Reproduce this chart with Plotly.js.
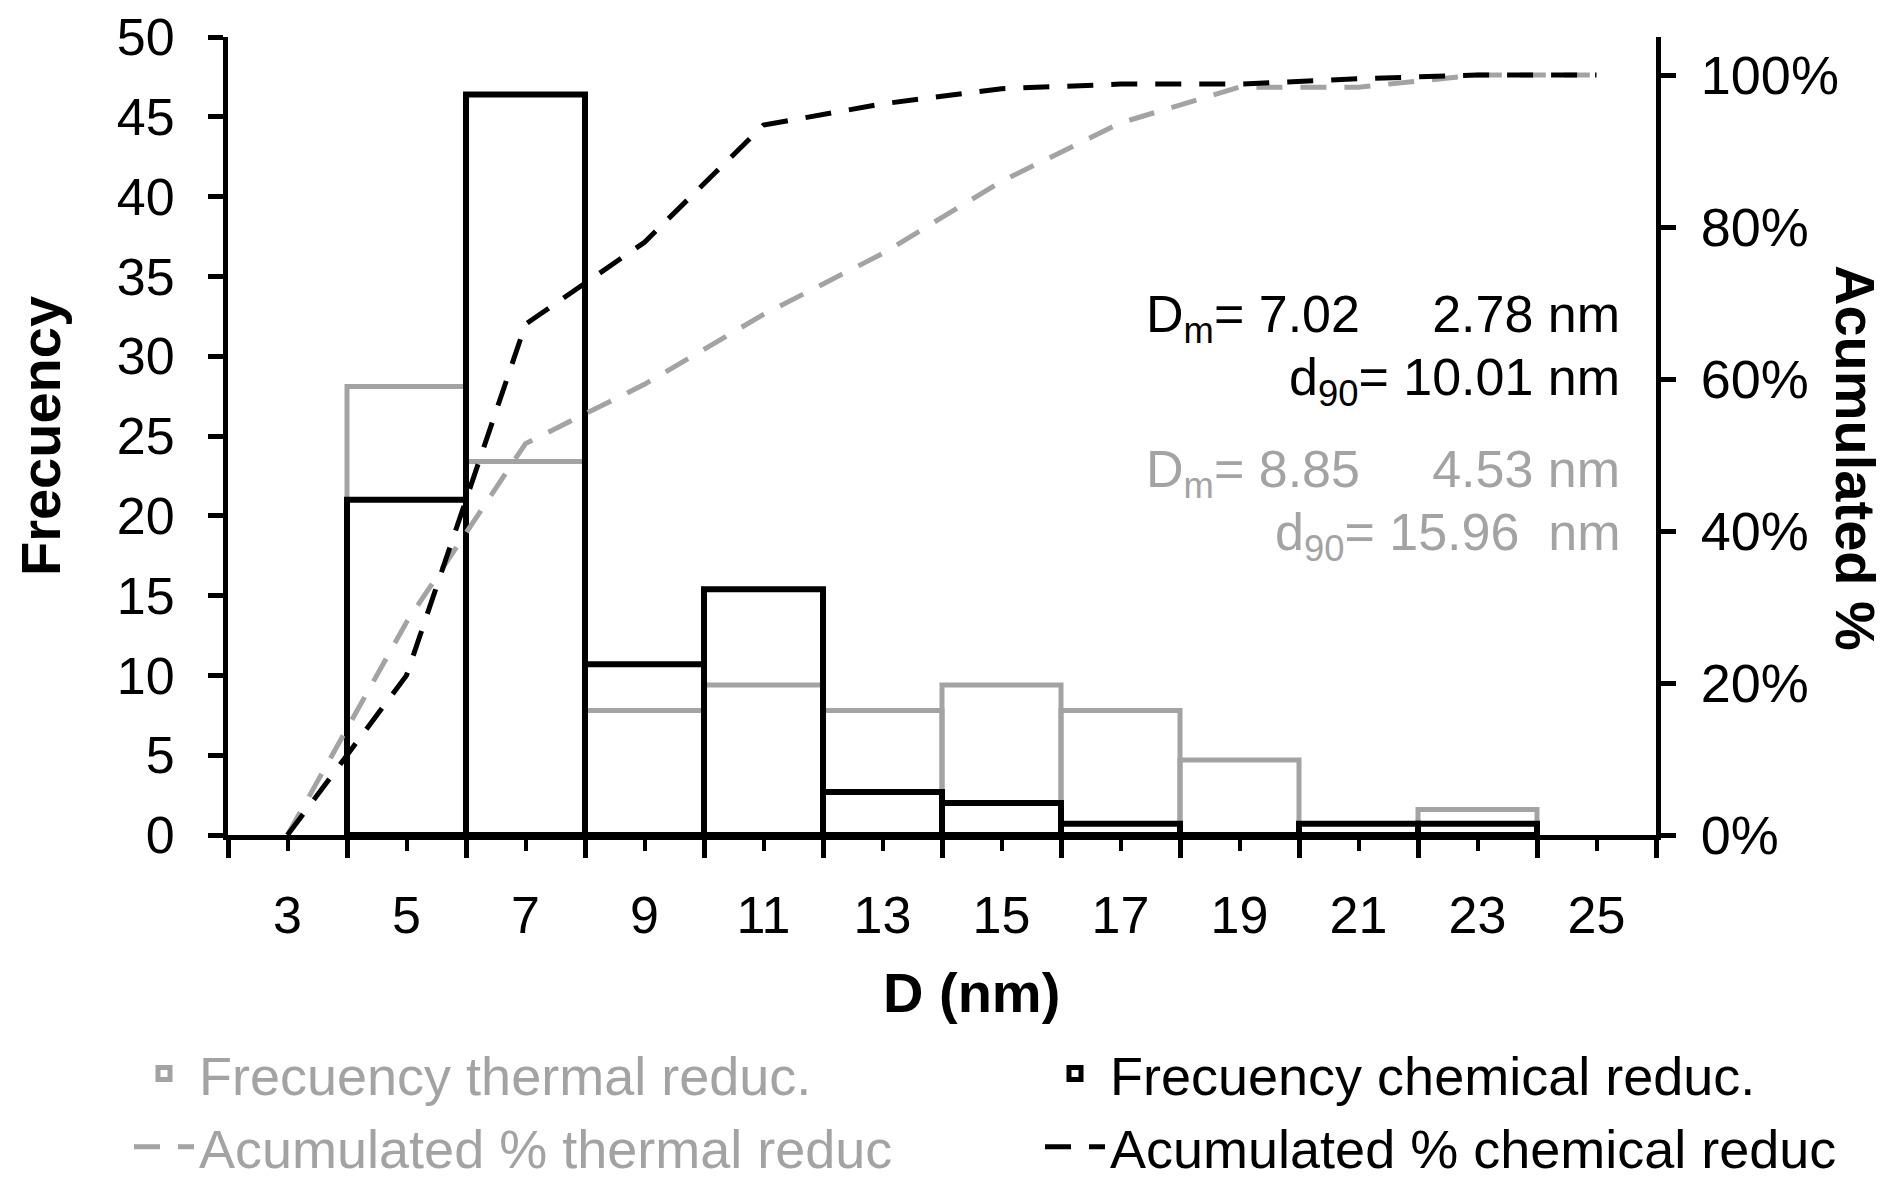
<!DOCTYPE html>
<html><head><meta charset="utf-8">
<script src="https://cdn.plot.ly/plotly-3.0.1.min.js"></script>
<style>html,body{margin:0;padding:0;background:#fff}#chart{width:1902px;height:1191px}</style>
</head><body><div id="chart"></div>
<script>
// Histogram bins (width 2 nm), centres
const binCenters = [5, 7, 9, 11, 13, 15, 17, 19, 21, 23];
const freqThermal = [28.1, 23.4, 7.8, 9.4, 7.8, 9.4, 7.8, 4.7, 0, 1.6];
const freqChemical = [21.0, 46.4, 10.7, 15.4, 2.7, 2.0, 0.7, 0, 0.7, 0.7];
// Accumulated % curves
const cumX = [3, 5, 7, 9, 11, 13, 15, 17, 19, 21, 23, 25];
const cumThermal = [0, 28, 51.5, 59.3, 68.5, 76.5, 86, 93.7, 98.4, 98.4, 100, 100];
const cumChemical = [0, 21, 67.2, 78, 93.4, 96.2, 98.2, 98.8, 98.8, 99.5, 100, 100];
// Tick labels
const xTickVals = [3, 5, 7, 9, 11, 13, 15, 17, 19, 21, 23, 25];
const xTickText = ['3', '5', '7', '9', '11', '13', '15', '17', '19', '21', '23', '25'];
const xMinorVals = [2, 4, 6, 8, 10, 12, 14, 16, 18, 20, 22, 24, 26];
const y2TickVals = [0, 20, 40, 60, 80, 100];
const y2TickText = ['0%', '20%', '40%', '60%', '80%', '100%'];
const statsChemical = ['D<sub>m</sub>= 7.02\u00a0\u00a0\u00a0\u00a0 2.78 nm', 'd<sub>90</sub>= 10.01 nm'];
const statsThermal = ['D<sub>m</sub>= 8.85\u00a0\u00a0\u00a0\u00a0 4.53 nm', 'd<sub>90</sub>= 15.96\u00a0 nm'];

const GRAY = '#a3a3a3';
const FONT = 'Liberation Sans, Arial, sans-serif';

const traces = [
  {type: 'bar', x: binCenters, y: freqThermal, width: 2, name: 'Frecuency thermal reduc.',
   marker: {color: 'rgba(0,0,0,0)', line: {color: GRAY, width: 5}}, legend: 'legend', legendgroup: 'tf', hoverinfo: 'x+y'},
  {type: 'scatter', mode: 'lines', x: cumX, y: cumThermal, yaxis: 'y2', name: 'Acumulated % thermal reduc',
   line: {color: GRAY, width: 5, dash: '26px,18px'}, legend: 'legend', legendgroup: 'tc'},
  {type: 'bar', x: binCenters, y: freqChemical, width: 2, name: 'Frecuency chemical reduc.',
   marker: {color: 'rgba(0,0,0,0)', line: {color: '#000', width: 6}}, legend: 'legend2', legendgroup: 'cf'},
  {type: 'scatter', mode: 'lines', x: cumX, y: cumChemical, yaxis: 'y2', name: 'Acumulated % chemical reduc',
   line: {color: '#000', width: 5, dash: '26px,18px'}, legend: 'legend2', legendgroup: 'cc'}
];

const L = 228, R = 1656, T = 37, B = 835;
const px = v => (v - L) / (R - L);
const py = v => (B - v) / (B - T);

const statAnn = (text, y, color) => ({xref: 'paper', yref: 'paper', x: px(1622), y: py(y), xanchor: 'right', yanchor: 'middle',
  text: text, showarrow: false, font: {family: FONT, size: 52, color: color}});

const layout = {
  width: 1902, height: 1191,
  margin: {l: L, r: 1902 - R, t: T, b: 1191 - B, autoexpand: false},
  paper_bgcolor: '#fff', plot_bgcolor: '#fff',
  font: {family: FONT, size: 52, color: '#000'},
  barmode: 'overlay',
  showlegend: true,
  xaxis: {range: [2, 26], tickmode: 'array', tickvals: xTickVals, ticktext: xTickText,
    ticks: 'outside', ticklen: 11, tickwidth: 4, tickcolor: '#000',
    minor: {tickmode: 'array', tickvals: xMinorVals, ticks: 'outside', ticklen: 18, tickwidth: 5, tickcolor: '#000'},
    showline: true, linewidth: 5, linecolor: '#000', showgrid: false, zeroline: false,
    ticklabelstandoff: 20},
  yaxis: {range: [0, 50], dtick: 5, tick0: 0, ticks: 'outside', ticklen: 15, tickwidth: 5, tickcolor: '#000',
    showline: true, linewidth: 5, linecolor: '#000', showgrid: false, zeroline: false,
    ticklabelstandoff: 23,
    title: {text: 'Frecuency', font: {family: FONT, size: 56, weight: 'bold', color: '#000'}, standoff: 40}},
  yaxis2: {overlaying: 'y', side: 'right', range: [0, 105], tickmode: 'array', tickvals: y2TickVals, ticktext: y2TickText,
    ticks: 'outside', ticklen: 15, tickwidth: 5, tickcolor: '#000',
    showline: true, linewidth: 5, linecolor: '#000', showgrid: false, zeroline: false,
    ticklabelstandoff: 14, tickfont: {size: 54}},
  legend: {x: px(129), xanchor: 'left', y: py(1032), yanchor: 'top', orientation: 'v', traceorder: 'normal',
    tracegroupgap: 12, bgcolor: 'rgba(0,0,0,0)', itemwidth: 60, font: {family: FONT, size: 54, color: GRAY}},
  legend2: {x: px(1040), xanchor: 'left', y: py(1032), yanchor: 'top', orientation: 'v', traceorder: 'normal',
    tracegroupgap: 12, bgcolor: 'rgba(0,0,0,0)', itemwidth: 60, font: {family: FONT, size: 54, color: '#000'}},
  annotations: [
    statAnn(statsChemical[0], 318, '#000'),
    statAnn(statsChemical[1], 381, '#000'),
    statAnn(statsThermal[0], 473, GRAY),
    statAnn(statsThermal[1], 536, GRAY),
    {xref: 'paper', yref: 'paper', x: px(971), y: py(992), xanchor: 'center', yanchor: 'middle',
     text: 'D (nm)', showarrow: false, font: {family: FONT, size: 56, weight: 'bold', color: '#000'}},
    {xref: 'paper', yref: 'paper', x: px(1856), y: py(458), xanchor: 'center', yanchor: 'middle', textangle: 90,
     text: 'Acumulated %', showarrow: false, font: {family: FONT, size: 56, weight: 'bold', color: '#000'}}
  ]
};

Plotly.newPlot('chart', traces, layout, {displayModeBar: false, staticPlot: true});
</script>
</body></html>
